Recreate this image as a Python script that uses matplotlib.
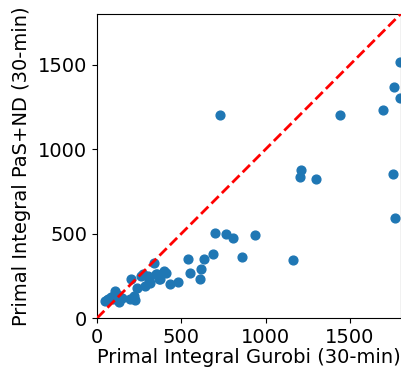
import numpy as np
import matplotlib.pyplot as plt

gurobi = [1794, 1760, 1794, 1693, 1439, 730, 1210, 1206, 1299, 1755, 1768,
          699, 762, 805, 936, 687, 859, 1161, 541, 632, 551, 618, 608, 482,
          432, 367, 339, 397, 411, 347, 302, 316, 286, 306, 261, 270, 201,
          235, 217, 223, 107, 122, 150, 128, 81, 47, 67, 97, 132, 355, 375,
          197, 59, 89]
pasnd = [1514, 1368, 1302, 1230, 1204, 1202, 878, 835, 821, 851, 590,
         505, 499, 472, 489, 379, 359, 343, 347, 351, 266, 292, 231, 213,
         199, 231, 328, 278, 266, 262, 247, 207, 191, 223, 247, 259, 231,
         178, 132, 105, 162, 138, 116, 93, 124, 103, 112, 112, 124, 260, 229,
         110, 107, 126]

lim = 1800

fig = plt.figure(figsize=(4.01, 3.69), dpi=100)
ax = fig.add_axes([0.242, 0.138, 0.757, 0.824])
ax.scatter(gurobi, pasnd, color="tab:blue", s=40, zorder=2)
ax.plot([0, lim], [0, lim], "r--", linewidth=2, zorder=3)
ax.set_xlim(0, lim)
ax.set_ylim(0, lim)
ax.set_xticks([0, 500, 1000, 1500])
ax.set_yticks([0, 500, 1000, 1500])
ax.tick_params(labelsize=14)
ax.set_xlabel("Primal Integral Gurobi (30-min)", fontsize=14, labelpad=1)
ax.set_ylabel("Primal Integral PaS+ND (30-min)", fontsize=14, labelpad=5)
fig.savefig("out.png")
